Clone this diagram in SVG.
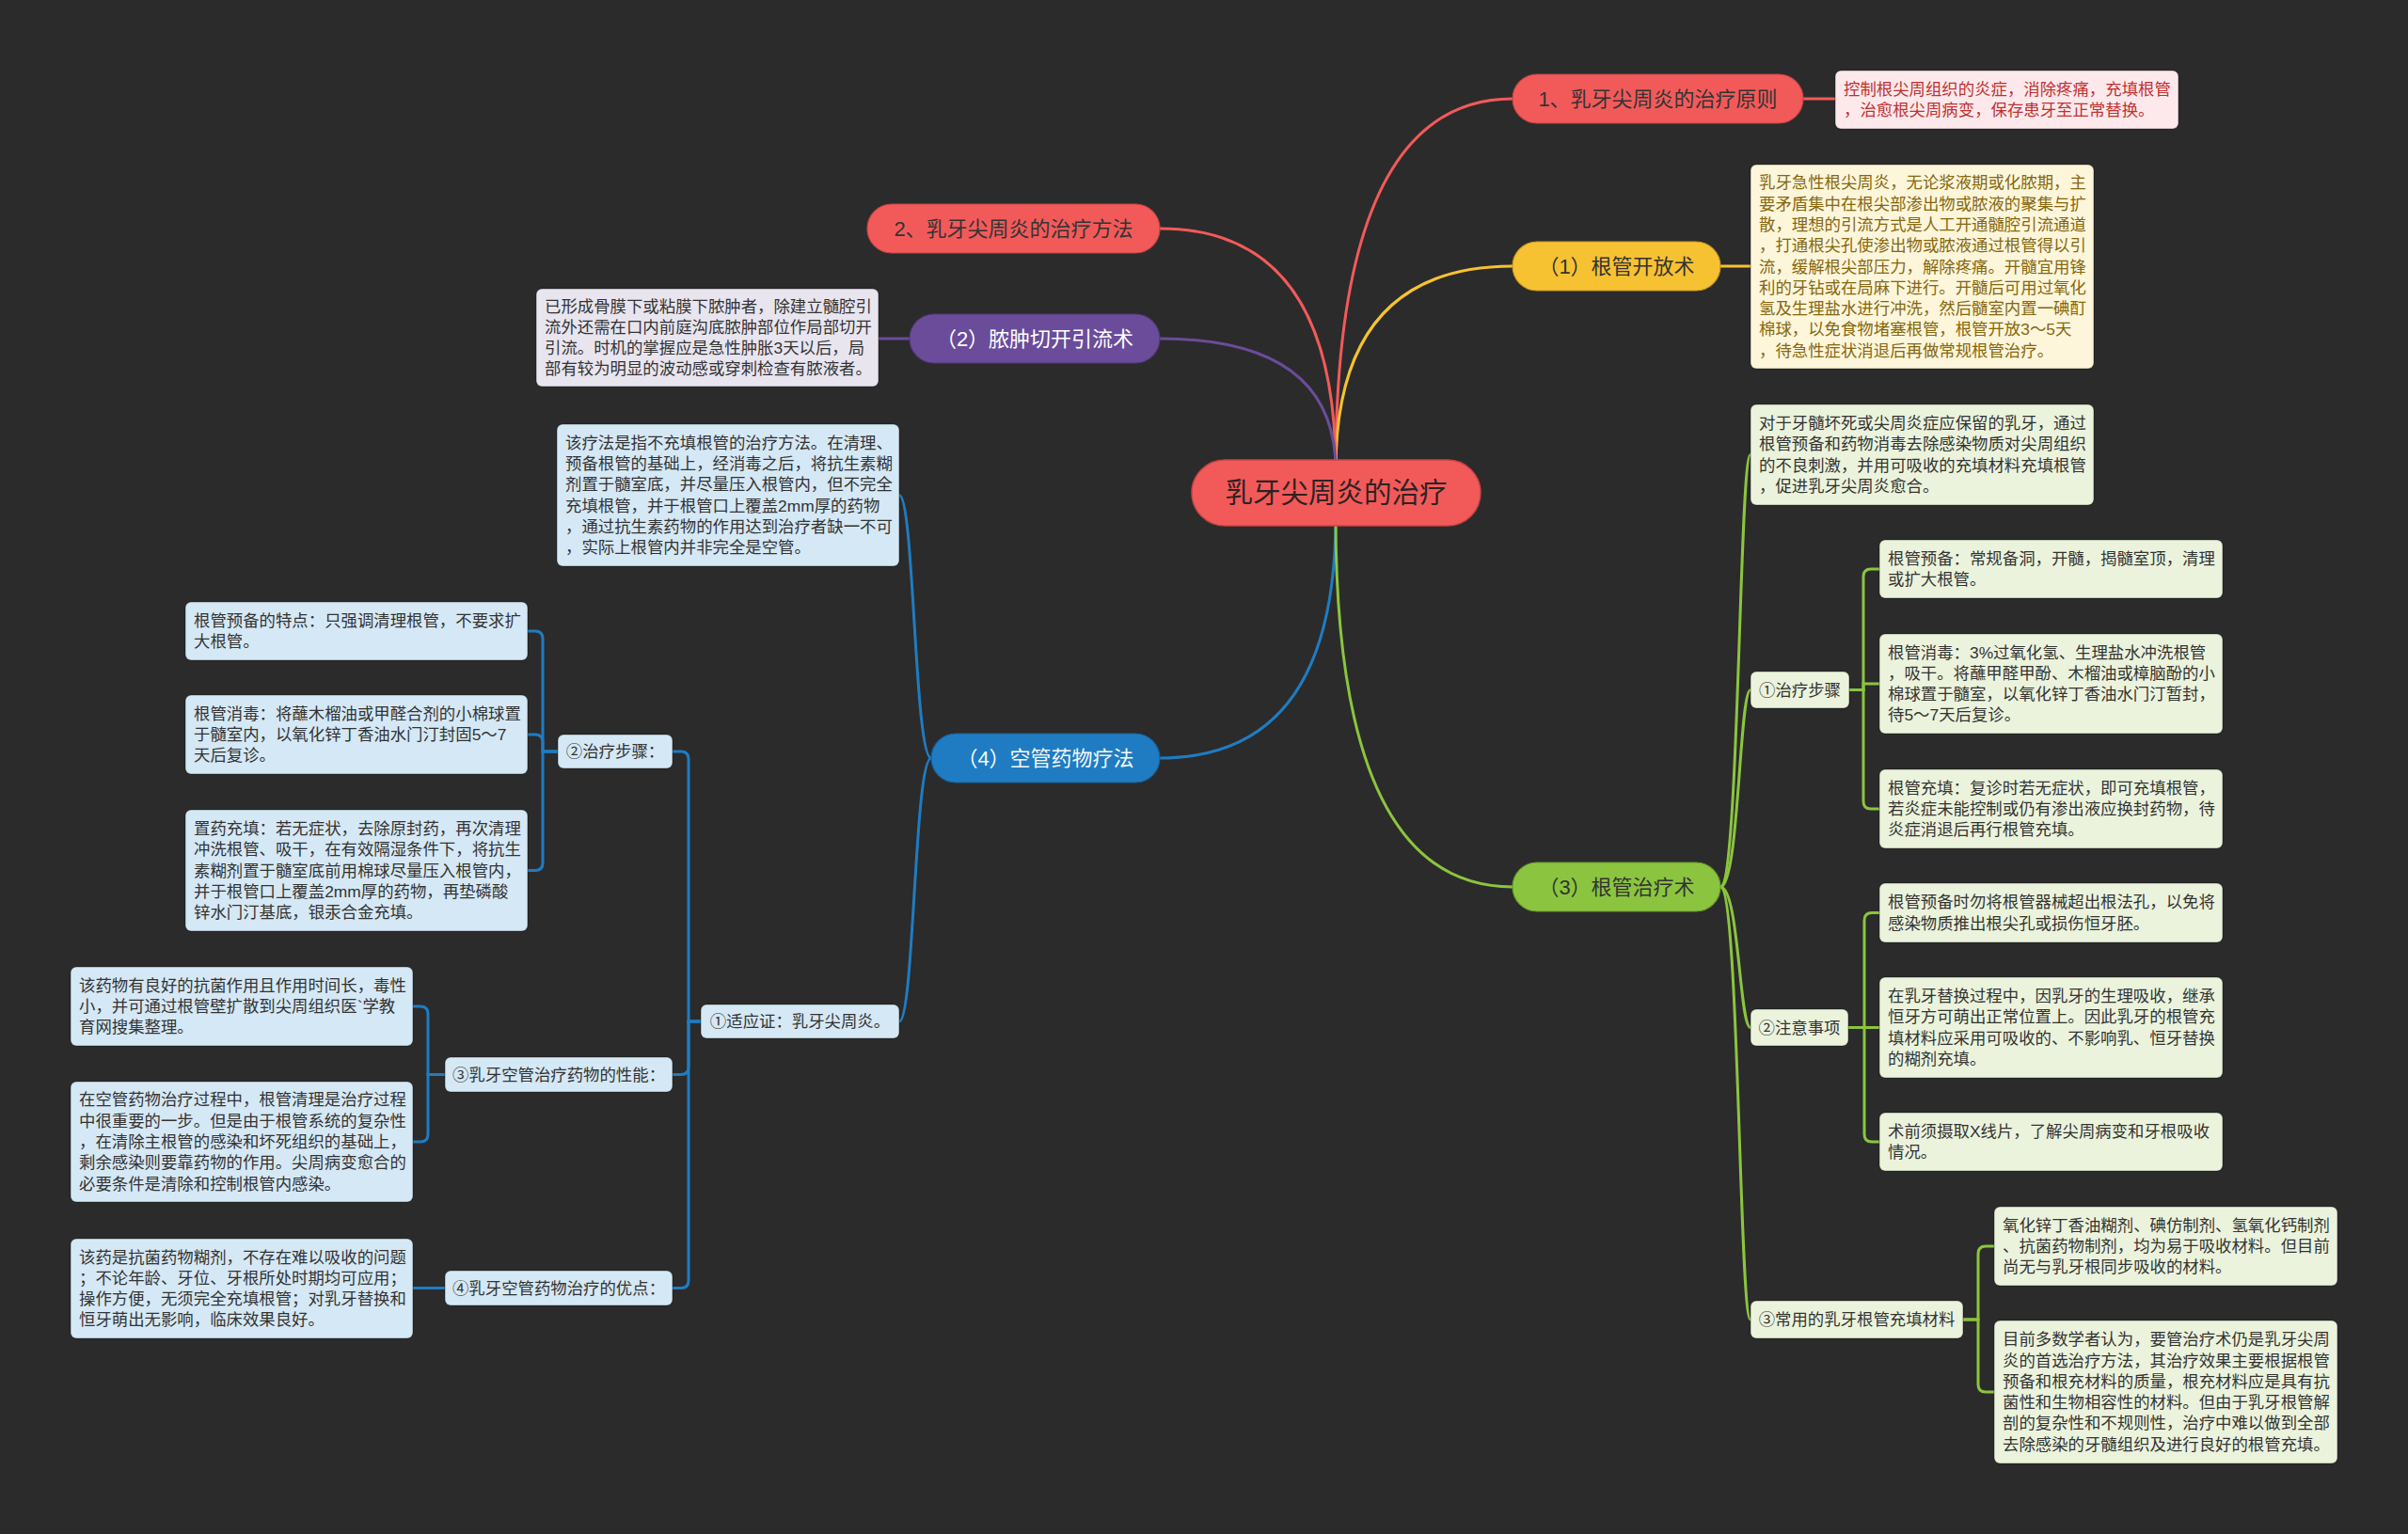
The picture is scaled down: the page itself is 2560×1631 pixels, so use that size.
<svg xmlns="http://www.w3.org/2000/svg" width="2560" height="1631" viewBox="0 0 2560 1631">
<style>
text{font-family:"Liberation Sans","Noto Sans CJK SC",sans-serif;}
.d{font-size:17.4px;fill:#333;}
.lb{font-size:17.4px;fill:#333;text-anchor:middle;}
.m{font-size:22px;text-anchor:middle;}
.c{fill:none;stroke-width:3;stroke-linecap:round;}
.red{stroke:#f25a5a;} .yel{stroke:#f7c232;} .pur{stroke:#6b4c9a;} .blu{stroke:#1f7cc2;} .grn{stroke:#8bc53f;}
.bx{stroke:rgba(0,0,0,0.35);stroke-width:1.2;}
.gb{fill:#ebf3dc;} .bb{fill:#d5e8f5;}
</style>
<rect width="2560" height="1631" fill="#2b2b2b"/>
<g id="connectors">
<path class="c red" d="M1420,500 Q1420,105 1608,105"/>
<path class="c yel" d="M1420,500 Q1420,283 1608,283"/>
<path class="c red" d="M1420,500 Q1420,243 1233,243"/>
<path class="c pur" d="M1420,500 Q1420,360 1233,360"/>
<path class="c blu" d="M1420,550 Q1420,806 1233,806"/>
<path class="c grn" d="M1420,550 Q1420,943 1608,943"/>
<path class="c red" d="M1917,105 H1951"/>
<path class="c yel" d="M1829,283 H1861"/>
<path class="c pur" d="M934,360 H967"/>
<path class="c grn" d="M1829,943 C1849,943 1849,483.5 1861,483.5"/>
<path class="c grn" d="M1829,943 C1849,943 1849,733.5 1861,733.5"/>
<path class="c grn" d="M1829,943 C1849,943 1849,1092.5 1861,1092.5"/>
<path class="c grn" d="M1829,943 C1849,943 1849,1403 1861,1403"/>
<path class="c grn" d="M1966,733.5 H1981 V613 Q1981,605 1989,605 H1998"/>
<path class="c grn" d="M1966,733.5 H1981 V727 H1998"/>
<path class="c grn" d="M1966,733.5 H1981 V852 Q1981,860 1989,860 H1998"/>
<path class="c grn" d="M1965,1092.5 H1982 V978.5 Q1982,970.5 1990,970.5 H1998"/>
<path class="c grn" d="M1965,1092.5 H1998"/>
<path class="c grn" d="M1965,1092.5 H1982 V1206 Q1982,1214 1990,1214 H1998"/>
<path class="c grn" d="M2087,1403 H2103 V1333 Q2103,1325 2111,1325 H2120"/>
<path class="c grn" d="M2087,1403 H2103 V1472 Q2103,1480 2111,1480 H2120"/>
<path class="c blu" d="M990,806 C972,806 972,526.5 956,526.5"/>
<path class="c blu" d="M990,806 C972,806 972,1086 956,1086"/>
<path class="c blu" d="M745,1086 H732 V807 Q732,799 724,799 H715"/>
<path class="c blu" d="M745,1086 H732 V1134.5 Q732,1142.5 724,1142.5 H715"/>
<path class="c blu" d="M745,1086 H732 V1361.5 Q732,1369.5 724,1369.5 H715"/>
<path class="c blu" d="M593,799 H577 V679 Q577,671 569,671 H561"/>
<path class="c blu" d="M593,799 H577 V789 Q577,781 569,781 H561"/>
<path class="c blu" d="M593,799 H577 V917.5 Q577,925.5 569,925.5 H561"/>
<path class="c blu" d="M473,1142.5 H455 V1078 Q455,1070 447,1070 H439"/>
<path class="c blu" d="M473,1142.5 H455 V1206 Q455,1214 447,1214 H439"/>
<path class="c blu" d="M473,1369.5 H439"/>
</g>

<g id="root">
<rect x="1267" y="489" width="307" height="70" rx="35" fill="#f25a5a" stroke="#c94444" stroke-width="1.5"/>
<text x="1420.5" y="534" font-size="29.5" text-anchor="middle" fill="#2e2222">乳牙尖周炎的治疗</text>
</g>

<g id="n1">
<rect x="1608" y="79" width="309" height="52" rx="26" fill="#f25a5a" stroke="#c94444" stroke-width="1.2"/>
<text class="m" x="1762.5" y="113" fill="#333">1、乳牙尖周炎的治疗原则</text>
</g>
<g id="n1d">
<rect class="bx" x="1951" y="75" width="365" height="62" rx="6" fill="#fde9ec"/>
<text class="d" x="1960" y="100.85" style="fill:#c0312f">控制根尖周组织的炎症，消除疼痛，充填根管</text>
<text class="d" x="1960" y="123.15" style="fill:#c0312f">，治愈根尖周病变，保存患牙至正常替换。</text>
</g>

<g id="n2">
<rect x="1608" y="257" width="221" height="52" rx="26" fill="#f7c232" stroke="#c99a20" stroke-width="1.2"/>
<text class="m" x="1718.5" y="291" fill="#333">（1）根管开放术</text>
</g>
<g id="n2d">
<rect class="bx" x="1861" y="175" width="365" height="217" rx="6" fill="#fdf6da"/>
<g class="d" style="fill:#86670f">
<text class="d" x="1870" y="200.3" style="fill:#86670f">乳牙急性根尖周炎，无论浆液期或化脓期，主</text>
<text class="d" x="1870" y="222.6" style="fill:#86670f">要矛盾集中在根尖部渗出物或脓液的聚集与扩</text>
<text class="d" x="1870" y="244.9" style="fill:#86670f">散，理想的引流方式是人工开通髓腔引流通道</text>
<text class="d" x="1870" y="267.2" style="fill:#86670f">，打通根尖孔使渗出物或脓液通过根管得以引</text>
<text class="d" x="1870" y="289.5" style="fill:#86670f">流，缓解根尖部压力，解除疼痛。开髓宜用锋</text>
<text class="d" x="1870" y="311.8" style="fill:#86670f">利的牙钻或在局麻下进行。开髓后可用过氧化</text>
<text class="d" x="1870" y="334.1" style="fill:#86670f">氢及生理盐水进行冲洗，然后髓室内置一碘酊</text>
<text class="d" x="1870" y="356.4" style="fill:#86670f">棉球，以免食物堵塞根管，根管开放3～5天</text>
<text class="d" x="1870" y="378.7" style="fill:#86670f">，待急性症状消退后再做常规根管治疗。</text>
</g>
</g>

<g id="n3">
<rect x="1608" y="917" width="221" height="52" rx="26" fill="#8bc53f" stroke="#6a9a2c" stroke-width="1.2"/>
<text class="m" x="1718.5" y="951" fill="#333">（3）根管治疗术</text>
</g>
<g id="g1">
<rect class="bx gb" x="1861" y="430" width="365" height="107" rx="6"/>
<text class="d" x="1870" y="456.05">对于牙髓坏死或尖周炎症应保留的乳牙，通过</text>
<text class="d" x="1870" y="478.35">根管预备和药物消毒去除感染物质对尖周组织</text>
<text class="d" x="1870" y="500.65">的不良刺激，并用可吸收的充填材料充填根管</text>
<text class="d" x="1870" y="522.95">，促进乳牙尖周炎愈合。</text>
</g>
<g id="g2">
<rect class="bx gb" x="1861" y="714" width="105" height="39" rx="6"/>
<text class="lb" x="1913.5" y="739.5">①治疗步骤</text>
</g>
<g id="g2a">
<rect class="bx gb" x="1998" y="574" width="365" height="62" rx="6"/>
<text class="d" x="2007" y="599.85">根管预备：常规备洞，开髓，揭髓室顶，清理</text>
<text class="d" x="2007" y="622.15">或扩大根管。</text>
</g>
<g id="g2b">
<rect class="bx gb" x="1998" y="674" width="365" height="106" rx="6"/>
<text class="d" x="2007" y="699.55">根管消毒：3%过氧化氢、生理盐水冲洗根管</text>
<text class="d" x="2007" y="721.85">，吸干。将蘸甲醛甲酚、木榴油或樟脑酚的小</text>
<text class="d" x="2007" y="744.15">棉球置于髓室，以氧化锌丁香油水门汀暂封，</text>
<text class="d" x="2007" y="766.45">待5～7天后复诊。</text>
</g>
<g id="g2c">
<rect class="bx gb" x="1998" y="818" width="365" height="84" rx="6"/>
<text class="d" x="2007" y="843.7">根管充填：复诊时若无症状，即可充填根管，</text>
<text class="d" x="2007" y="866">若炎症未能控制或仍有渗出液应换封药物，待</text>
<text class="d" x="2007" y="888.3">炎症消退后再行根管充填。</text>
</g>
<g id="g3">
<rect class="bx gb" x="1861" y="1073" width="104" height="39" rx="6"/>
<text class="lb" x="1913" y="1098.5">②注意事项</text>
</g>
<g id="g3a">
<rect class="bx gb" x="1998" y="939" width="365" height="63" rx="6"/>
<text class="d" x="2007" y="965.35">根管预备时勿将根管器械超出根法孔，以免将</text>
<text class="d" x="2007" y="987.65">感染物质推出根尖孔或损伤恒牙胚。</text>
</g>
<g id="g3b">
<rect class="bx gb" x="1998" y="1039" width="365" height="107" rx="6"/>
<text class="d" x="2007" y="1065.05">在乳牙替换过程中，因乳牙的生理吸收，继承</text>
<text class="d" x="2007" y="1087.35">恒牙方可萌出正常位置上。因此乳牙的根管充</text>
<text class="d" x="2007" y="1109.65">填材料应采用可吸收的、不影响乳、恒牙替换</text>
<text class="d" x="2007" y="1131.95">的糊剂充填。</text>
</g>
<g id="g3c">
<rect class="bx gb" x="1998" y="1183" width="365" height="62" rx="6"/>
<text class="d" x="2007" y="1208.85">术前须摄取X线片，了解尖周病变和牙根吸收</text>
<text class="d" x="2007" y="1231.15">情况。</text>
</g>
<g id="g4">
<rect class="bx gb" x="1861" y="1383" width="226" height="40" rx="6"/>
<text class="lb" x="1974" y="1409">③常用的乳牙根管充填材料</text>
</g>
<g id="g4a">
<rect class="bx gb" x="2120" y="1283" width="365" height="84" rx="6"/>
<text class="d" x="2129" y="1308.7">氧化锌丁香油糊剂、碘仿制剂、氢氧化钙制剂</text>
<text class="d" x="2129" y="1331">、抗菌药物制剂，均为易于吸收材料。但目前</text>
<text class="d" x="2129" y="1353.3">尚无与乳牙根同步吸收的材料。</text>
</g>
<g id="g4b">
<rect class="bx gb" x="2120" y="1404" width="365" height="152" rx="6"/>
<text class="d" x="2129" y="1430.25">目前多数学者认为，要管治疗术仍是乳牙尖周</text>
<text class="d" x="2129" y="1452.55">炎的首选治疗方法，其治疗效果主要根据根管</text>
<text class="d" x="2129" y="1474.85">预备和根充材料的质量，根充材料应是具有抗</text>
<text class="d" x="2129" y="1497.15">菌性和生物相容性的材料。但由于乳牙根管解</text>
<text class="d" x="2129" y="1519.45">剖的复杂性和不规则性，治疗中难以做到全部</text>
<text class="d" x="2129" y="1541.75">去除感染的牙髓组织及进行良好的根管充填。</text>
</g>

<g id="m2">
<rect x="922" y="217" width="311" height="52" rx="26" fill="#f25a5a" stroke="#c94444" stroke-width="1.2"/>
<text class="m" x="1077.5" y="251" fill="#333">2、乳牙尖周炎的治疗方法</text>
</g>
<g id="m3">
<rect x="967" y="334" width="266" height="52" rx="26" fill="#6b4c9a" stroke="#533a7a" stroke-width="1.2"/>
<text class="m" x="1100" y="368" fill="#ffffff">（2）脓肿切开引流术</text>
</g>
<g id="m3d">
<rect class="bx" x="570" y="307" width="364" height="104" rx="6" fill="#e8e5ef"/>
<text class="d" x="579" y="331.55">已形成骨膜下或粘膜下脓肿者，除建立髓腔引</text>
<text class="d" x="579" y="353.85">流外还需在口内前庭沟底脓肿部位作局部切开</text>
<text class="d" x="579" y="376.15">引流。时机的掌握应是急性肿胀3天以后，局</text>
<text class="d" x="579" y="398.45">部有较为明显的波动感或穿刺检查有脓液者。</text>
</g>

<g id="m4">
<rect x="990" y="780" width="243" height="52" rx="26" fill="#1f7cc2" stroke="#16609a" stroke-width="1.2"/>
<text class="m" x="1111.5" y="814" fill="#f4f8fc">（4）空管药物疗法</text>
</g>
<g id="b1">
<rect class="bx bb" x="592" y="451" width="364" height="151" rx="6"/>
<text class="d" x="601" y="476.75">该疗法是指不充填根管的治疗方法。在清理、</text>
<text class="d" x="601" y="499.05">预备根管的基础上，经消毒之后，将抗生素糊</text>
<text class="d" x="601" y="521.35">剂置于髓室底，并尽量压入根管内，但不完全</text>
<text class="d" x="601" y="543.65">充填根管，并于根管口上覆盖2mm厚的药物</text>
<text class="d" x="601" y="565.95">，通过抗生素药物的作用达到治疗者缺一不可</text>
<text class="d" x="601" y="588.25">，实际上根管内并非完全是空管。</text>
</g>
<g id="a1">
<rect class="bx bb" x="745" y="1068" width="211" height="36" rx="6"/>
<text class="lb" x="850.5" y="1092">①适应证：乳牙尖周炎。</text>
</g>
<g id="a2">
<rect class="bx bb" x="593" y="781" width="122" height="36" rx="6"/>
<text class="lb" x="654" y="805">②治疗步骤：</text>
</g>
<g id="p1">
<rect class="bx bb" x="197" y="640" width="364" height="62" rx="6"/>
<text class="d" x="206" y="665.85">根管预备的特点：只强调清理根管，不要求扩</text>
<text class="d" x="206" y="688.15">大根管。</text>
</g>
<g id="p2">
<rect class="bx bb" x="197" y="739" width="364" height="84" rx="6"/>
<text class="d" x="206" y="764.7">根管消毒：将蘸木榴油或甲醛合剂的小棉球置</text>
<text class="d" x="206" y="787">于髓室内，以氧化锌丁香油水门汀封固5～7</text>
<text class="d" x="206" y="809.3">天后复诊。</text>
</g>
<g id="p3">
<rect class="bx bb" x="197" y="861" width="364" height="129" rx="6"/>
<text class="d" x="206" y="886.9">置药充填：若无症状，去除原封药，再次清理</text>
<text class="d" x="206" y="909.2">冲洗根管、吸干，在有效隔湿条件下，将抗生</text>
<text class="d" x="206" y="931.5">素糊剂置于髓室底前用棉球尽量压入根管内，</text>
<text class="d" x="206" y="953.8">并于根管口上覆盖2mm厚的药物，再垫磷酸</text>
<text class="d" x="206" y="976.1">锌水门汀基底，银汞合金充填。</text>
</g>
<g id="a3">
<rect class="bx bb" x="473" y="1124" width="242" height="37" rx="6"/>
<text class="lb" x="594" y="1148.5">③乳牙空管治疗药物的性能：</text>
</g>
<g id="q1">
<rect class="bx bb" x="75" y="1028" width="364" height="84" rx="6"/>
<text class="d" x="84" y="1053.7">该药物有良好的抗菌作用且作用时间长，毒性</text>
<text class="d" x="84" y="1076">小，并可通过根管壁扩散到尖周组织医`学教</text>
<text class="d" x="84" y="1098.3">育网搜集整理。</text>
</g>
<g id="q2">
<rect class="bx bb" x="75" y="1150" width="364" height="128" rx="6"/>
<text class="d" x="84" y="1175.4">在空管药物治疗过程中，根管清理是治疗过程</text>
<text class="d" x="84" y="1197.7">中很重要的一步。但是由于根管系统的复杂性</text>
<text class="d" x="84" y="1220">，在清除主根管的感染和坏死组织的基础上，</text>
<text class="d" x="84" y="1242.3">剩余感染则要靠药物的作用。尖周病变愈合的</text>
<text class="d" x="84" y="1264.6">必要条件是清除和控制根管内感染。</text>
</g>
<g id="a4">
<rect class="bx bb" x="473" y="1351" width="242" height="37" rx="6"/>
<text class="lb" x="594" y="1375.5">④乳牙空管药物治疗的优点：</text>
</g>
<g id="r1">
<rect class="bx bb" x="75" y="1317" width="364" height="106" rx="6"/>
<text class="d" x="84" y="1342.55">该药是抗菌药物糊剂，不存在难以吸收的问题</text>
<text class="d" x="84" y="1364.85">；不论年龄、牙位、牙根所处时期均可应用；</text>
<text class="d" x="84" y="1387.15">操作方便，无须完全充填根管；对乳牙替换和</text>
<text class="d" x="84" y="1409.45">恒牙萌出无影响，临床效果良好。</text>
</g>
</svg>
